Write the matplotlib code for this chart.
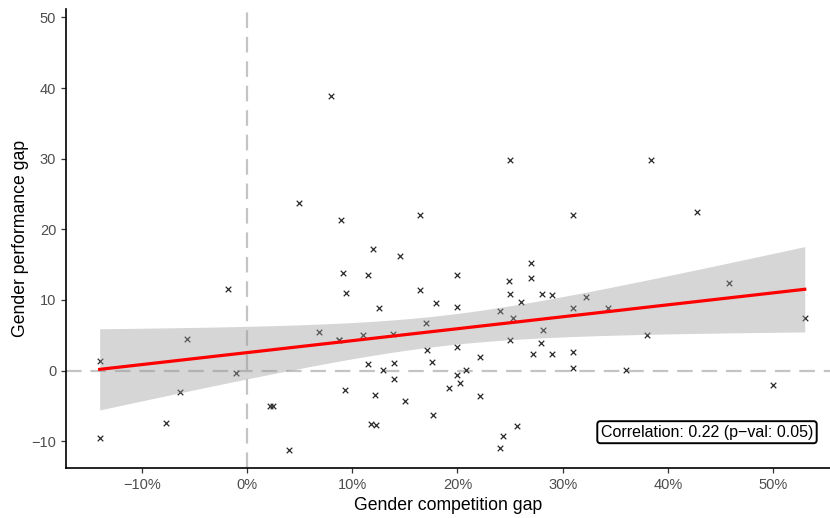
import matplotlib
matplotlib.use("Agg")
import matplotlib.pyplot as plt
import numpy as np

plt.rcParams['font.family'] = ['Liberation Sans', 'DejaVu Sans']

# gender competition gap (share) vs gender performance gap
comp_gap = [0.080, 0.049, -0.018, -0.057, 0.068, -0.140, -0.010, -0.064, 0.022, 0.025,
            -0.077, -0.140, 0.040, 0.087, 0.250, 0.089, 0.164, 0.310, 0.120, 0.145,
            0.091, 0.115, 0.200, 0.270, 0.270, 0.249, 0.094, 0.164, 0.250, 0.280,
            0.290, 0.260, 0.125, 0.180, 0.200, 0.240, 0.310, 0.322, 0.170, 0.253,
            0.281, 0.087, 0.110, 0.139, 0.250, 0.279, 0.171, 0.200, 0.272, 0.290,
            0.310, 0.221, 0.115, 0.140, 0.176, 0.129, 0.208, 0.310, 0.200, 0.140,
            0.202, 0.192, 0.093, 0.122, 0.221, 0.150, 0.177, 0.118, 0.123, 0.257,
            0.243, 0.240, 0.384, 0.428, 0.458, 0.343, 0.530, 0.380, 0.360, 0.500]
perf_gap = [38.9, 23.7, 11.5, 4.5, 5.5, 1.3, -0.3, -3.0, -5.0, -5.0,
            -7.4, -9.5, -11.2, 4.3, 29.8, 21.3, 22.0, 22.0, 17.2, 16.2,
            13.8, 13.5, 13.6, 15.2, 13.1, 12.7, 11.0, 11.4, 10.8, 10.8,
            10.7, 9.7, 8.8, 9.5, 9.0, 8.5, 8.8, 10.4, 6.8, 7.5,
            5.7, 4.3, 5.0, 5.2, 4.3, 3.9, 2.9, 3.4, 2.3, 2.3,
            2.6, 1.9, 0.9, 1.1, 1.2, 0.1, 0.1, 0.4, -0.6, -1.2,
            -1.8, -2.5, -2.7, -3.5, -3.6, -4.3, -6.3, -7.6, -7.7, -7.9,
            -9.3, -10.9, 29.8, 22.5, 12.4, 8.8, 7.4, 5.0, 0.1, -2.1]
corr_label = "Correlation: 0.22 (p\u2212val: 0.05)"
y_ticks = [-10, 0, 10, 20, 30, 40, 50]
x_ticks = [-0.1, 0.0, 0.1, 0.2, 0.3, 0.4, 0.5]

x = np.array(comp_gap)
y = np.array(perf_gap)

# linear fit with 95% confidence band
n = len(x)
slope, intercept = np.polyfit(x, y, 1)
xs = np.linspace(x.min(), x.max(), 100)
ys = intercept + slope * xs
resid = y - (intercept + slope * x)
s = np.sqrt(np.sum(resid ** 2) / (n - 2))
se = s * np.sqrt(1 / n + (xs - x.mean()) ** 2 / np.sum((x - x.mean()) ** 2))
t = 1.991

fig = plt.figure(figsize=(8.3, 5.18), dpi=100)
ax = fig.add_axes([66 / 830, 50 / 518, 764 / 830, 459 / 518])

ax.axhline(0, color='#c4c4c4', lw=1.6, dashes=(7, 4), zorder=1)
ax.axvline(0, color='#c4c4c4', lw=1.6, dashes=(7, 4), zorder=1)
ax.scatter(x, y, marker='x', s=16, linewidths=0.9, color='#2a2a2a', zorder=2)
ax.fill_between(xs, ys - t * se, ys + t * se, color='#999999', alpha=0.4, lw=0, zorder=3)
ax.plot(xs, ys, color='#ff0000', lw=2.3, zorder=4)

ax.text(0.839, 0.078, corr_label, transform=ax.transAxes, ha='center', va='center',
        fontsize=11.5, color='black', zorder=5,
        bbox=dict(boxstyle='round,pad=0.22,rounding_size=0.2', fc='white', ec='black', lw=1.4))

ax.set_xlim(-0.172, 0.554)
ax.set_ylim(-13.8, 51.2)
ax.set_xticks(x_ticks)
ax.set_xticklabels([f"{v * 100:.0f}%".replace('-', '\u2212') for v in x_ticks])
ax.set_yticks(y_ticks)
ax.set_yticklabels([str(v).replace('-', '\u2212') for v in y_ticks])
ax.tick_params(axis='both', colors='#333333', labelcolor='#4d4d4d', labelsize=10.5,
               length=3.5, width=0.9)
for side in ['top', 'right']:
    ax.spines[side].set_visible(False)
for side in ['left', 'bottom']:
    ax.spines[side].set_linewidth(1.2)
    ax.spines[side].set_color('black')

ax.set_xlabel("Gender competition gap", fontsize=12.7, labelpad=4)
ax.set_ylabel("Gender performance gap", fontsize=12.7, labelpad=2)

fig.savefig("out.png", dpi=100)
